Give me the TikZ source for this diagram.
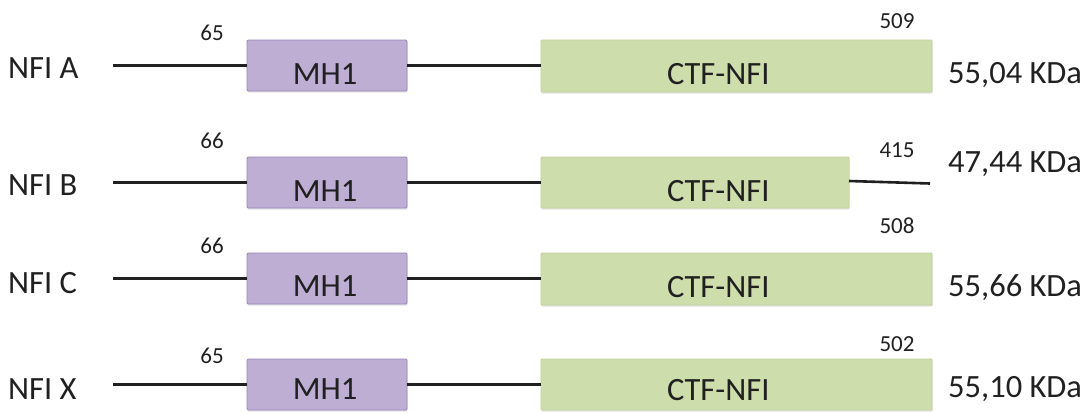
\documentclass[tikz,border=0pt]{standalone}
\usepackage{fontspec}
\setmainfont{Carlito}
\usetikzlibrary{shadows}
\definecolor{mhfill}{RGB}{191,174,212}
\definecolor{mhdraw}{RGB}{150,132,185}
\definecolor{ctffill}{RGB}{206,221,172}
\definecolor{ctfdraw}{RGB}{192,209,152}
\definecolor{ink}{RGB}{32,32,32}
\begin{document}
\begin{tikzpicture}[x=1pt,y=-1pt,
  boxbase/.style={inner sep=0pt, outer sep=0pt, anchor=north west, line width=0.9pt,
    drop shadow={opacity=0.22, shadow xshift=0.6pt, shadow yshift=-1.6pt}},
  mhbox/.style={boxbase, draw=mhdraw, fill=mhfill, rounded corners=1.2pt, minimum width=160pt},
  ctfbox/.style={boxbase, draw=ctfdraw, fill=ctffill, rounded corners=0.8pt},
  big/.style={font=\fontsize{32.5}{38}\selectfont, text=ink, inner sep=0pt, anchor=base west},
  bigc/.style={big, anchor=base},
  num/.style={font=\fontsize{23}{27}\selectfont, text=ink, inner sep=0pt, anchor=base},
  chain/.style={draw=ink, line width=2.6pt}
]
\useasboundingbox (0,0) rectangle (1091,413);

% ---------- NFI A ----------
\node[mhbox, minimum height=51pt] (mA) at (247,40) {};
\node[ctfbox, minimum width=391pt, minimum height=52pt] (cA) at (541,40) {};
\coordinate (sA) at (113,65.5);
\draw[chain] (sA) -- (mA.west);
\draw[chain] (mA.east) -- (cA.west |- mA.east);
\node[big] (lA) at (8,78) {NFI A};
\node[bigc] (tmA) at (325,84) {MH1};
\node[big] (tcA) at (667,84) {CTF-NFI};
\node[num] (nA1) at (212,40) {65};
\node[num] (nA2) at (897,28) {509};
\node[big] (kA) at (948,83) {55,04 KDa};

% ---------- NFI B ----------
\node[mhbox, minimum height=51pt] (mB) at (247,157) {};
\node[ctfbox, minimum width=308pt, minimum height=51pt] (cB) at (541,157) {};
\coordinate (sB) at (113,182.5);
\coordinate (eB) at (930,183.5);
\draw[chain] (sB) -- (mB.west);
\draw[chain] (mB.east) -- (cB.west);
\draw[chain] ([yshift=1.5pt]cB.east) -- (eB);
\node[big] (lB) at (8,195) {NFI B};
\node[bigc] (tmB) at (325,201) {MH1};
\node[big] (tcB) at (667,201) {CTF-NFI};
\node[num] (nB1) at (212,148) {66};
\node[num] (nB2) at (897,157) {415};
\node[big] (kB) at (948,172) {47,44 KDa};

% ---------- NFI C ----------
\node[mhbox, minimum height=51pt] (mC) at (247,253) {};
\node[ctfbox, minimum width=391pt, minimum height=52pt] (cC) at (541,253) {};
\coordinate (sC) at (113,278.5);
\draw[chain] (sC) -- (mC.west);
\draw[chain] (mC.east) -- (cC.west |- mC.east);
\node[big] (lC) at (8,293) {NFI C};
\node[bigc] (tmC) at (325,296) {MH1};
\node[big] (tcC) at (667,297) {CTF-NFI};
\node[num] (nC1) at (212,253) {66};
\node[num] (nC2) at (897,233) {508};
\node[big] (kC) at (948,296) {55,66 KDa};

% ---------- NFI X ----------
\node[mhbox, minimum height=51pt] (mX) at (247,359) {};
\node[ctfbox, minimum width=391pt, minimum height=51pt] (cX) at (541,359) {};
\coordinate (sX) at (113,384.5);
\draw[chain] (sX) -- (mX.west);
\draw[chain] (mX.east) -- (cX.west |- mX.east);
\node[big] (lX) at (8,399) {NFI X};
\node[bigc] (tmX) at (325,399) {MH1};
\node[big] (tcX) at (667,400) {CTF-NFI};
\node[num] (nX1) at (212,363) {65};
\node[num] (nX2) at (897,351) {502};
\node[big] (kX) at (948,397) {55,10 KDa};
\end{tikzpicture}
\end{document}
